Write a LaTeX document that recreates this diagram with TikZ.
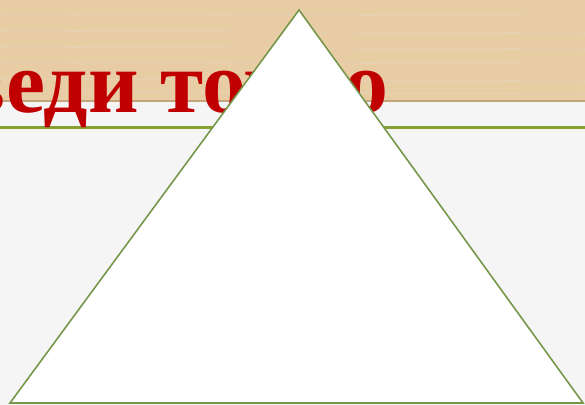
\documentclass[tikz,border=0pt]{standalone}
\usepackage{fontspec}
\setmainfont{Liberation Serif}
\usetikzlibrary{positioning}
\definecolor{woodtan}{RGB}{232,204,164}
\definecolor{woodedge}{RGB}{196,166,126}
\definecolor{titlered}{RGB}{192,0,0}
\definecolor{rulegreen}{RGB}{134,160,52}
\definecolor{trigreen}{RGB}{118,150,74}
\definecolor{paper}{RGB}{245,245,245}

\begin{document}
\begin{tikzpicture}[
  x=0.02cm, y=-0.02cm,
  title/.style={font=\bfseries\fontsize{50}{54}\selectfont, text=titlered, inner sep=0pt, anchor=base east},
  tri/.style={draw=trigreen, line width=0.9pt, fill=white, line join=miter}
]
% background
\fill[paper] (0,0) rectangle (585,405);
\useasboundingbox (0,0) rectangle (585,405);
\fill[woodtan] (0,0) rectangle (585,101);
\foreach \y in {14,31,47,62,79,92}
  \draw[woodedge!45, line width=0.6pt, opacity=0.5] (0,\y) -- (585,\y+2);
\fill[woodedge] (0,100) rectangle (585,102);
\fill[rulegreen] (0,126) rectangle (585,129.5);
% title
\node[title] (heading) at (389,113) {веди точно};
% triangle
\coordinate (apex) at (299,10);
\coordinate (left) at (10,403);
\coordinate (right) at (583,403);
\draw[tri] (apex) -- (left) -- (right) -- cycle;
\end{tikzpicture}
\end{document}
